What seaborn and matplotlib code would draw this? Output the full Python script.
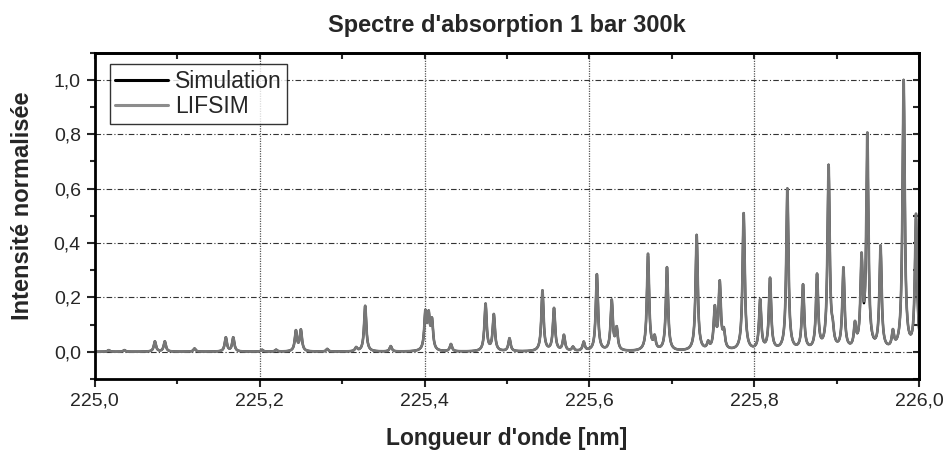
import numpy as np
import pandas as pd
import matplotlib
matplotlib.use("Agg")
import matplotlib.pyplot as plt
import seaborn as sns
from matplotlib.ticker import MultipleLocator, FuncFormatter

sns.set_style("ticks")
plt.rcParams['font.family'] = ['Liberation Sans', 'DejaVu Sans']

# Line positions (nm) and peak heights
peak_pos = [225.017, 225.036, 225.073, 225.085, 225.121, 225.159, 225.168,
            225.203, 225.220, 225.244, 225.250, 225.282, 225.317, 225.328,
            225.359, 225.401, 225.405, 225.409, 225.432, 225.474, 225.484,
            225.503, 225.543, 225.557, 225.569, 225.580, 225.593, 225.609,
            225.627, 225.633, 225.671, 225.679, 225.694, 225.730, 225.744,
            225.752, 225.758, 225.763, 225.787, 225.807, 225.819, 225.840,
            225.859, 225.876, 225.890, 225.895, 225.908, 225.922, 225.930,
            225.937, 225.953, 225.968, 225.981, 225.996]
sim_height = [0.006, 0.006, 0.038, 0.038, 0.012, 0.052, 0.052,
              0.007, 0.007, 0.075, 0.078, 0.010, 0.014, 0.170,
              0.020, 0.135, 0.120, 0.105, 0.027, 0.175, 0.135,
              0.048, 0.225, 0.158, 0.058, 0.015, 0.033, 0.285,
              0.185, 0.080, 0.350, 0.045, 0.310, 0.430, 0.025,
              0.150, 0.245, 0.060, 0.510, 0.185, 0.265, 0.600,
              0.240, 0.275, 0.680, 0.050, 0.300, 0.085, 0.320,
              0.730, 0.380, 0.060, 1.000, 0.480]
lifsim_height = [0.006, 0.006, 0.038, 0.038, 0.012, 0.052, 0.052,
                 0.007, 0.007, 0.075, 0.078, 0.010, 0.014, 0.170,
                 0.020, 0.135, 0.120, 0.105, 0.027, 0.175, 0.135,
                 0.048, 0.225, 0.158, 0.058, 0.015, 0.033, 0.285,
                 0.185, 0.080, 0.360, 0.045, 0.310, 0.430, 0.025,
                 0.150, 0.245, 0.060, 0.510, 0.185, 0.265, 0.600,
                 0.240, 0.275, 0.680, 0.050, 0.300, 0.085, 0.320,
                 0.790, 0.380, 0.060, 1.000, 0.500]
hwhm = 0.0016  # lorentzian half width, nm

wl = np.linspace(225.0, 226.0, 5001)


def spectrum(heights):
    pos = np.array(peak_pos)[:, None]
    h = np.array(heights)[:, None]
    s = (h * hwhm**2 / ((wl[None, :] - pos)**2 + hwhm**2)).sum(axis=0)
    return s / s.max()


df_sim = pd.DataFrame({'wl': wl, 'I': spectrum(sim_height)})
df_lif = pd.DataFrame({'wl': wl, 'I': spectrum(lifsim_height)})

fig = plt.figure(figsize=(9.49, 4.53), dpi=100)
ax = fig.add_axes([0.0998, 0.1634, 0.8689, 0.7203])

sns.lineplot(data=df_sim, x='wl', y='I', ax=ax, color='black', lw=1.6, label='Simulation')
sns.lineplot(data=df_lif, x='wl', y='I', ax=ax, color='#777777', lw=1.9, label='LIFSIM')

ax.set_xlim(225.0, 226.0)
ax.set_ylim(-0.1, 1.1)

ax.xaxis.set_major_locator(MultipleLocator(0.2))
ax.xaxis.set_minor_locator(MultipleLocator(0.1))
ax.yaxis.set_major_locator(MultipleLocator(0.2))
ax.yaxis.set_minor_locator(MultipleLocator(0.1))
ax.xaxis.set_major_formatter(FuncFormatter(lambda v, p: f"{v:.1f}".replace('.', ',')))
ax.yaxis.set_major_formatter(FuncFormatter(lambda v, p: f"{v:.1f}".replace('.', ',')))

ax.tick_params(which='major', direction='out', length=6, width=1.5, labelsize=14,
               top=False, right=False, pad=4)
ax.tick_params(which='minor', direction='out', length=3.5, width=1.5, top=False, right=False)
# inward ticks on top and right
sec_x = ax.secondary_xaxis('top')
sec_x.xaxis.set_major_locator(MultipleLocator(0.1))
sec_x.tick_params(direction='in', length=4, width=1.5, labeltop=False)
sec_x.spines['top'].set_linewidth(2)
sec_y = ax.secondary_yaxis('right')
sec_y.yaxis.set_major_locator(MultipleLocator(0.1))
sec_y.tick_params(direction='in', length=4, width=1.5, labelright=False)
sec_y.spines['right'].set_linewidth(2)

for s in ax.spines.values():
    s.set_linewidth(2)
    s.set_color('black')
    s.set_visible(True)

# grid: x dotted, y dash-dot
for v in [225.2, 225.4, 225.6, 225.8]:
    ax.axvline(v, color='#555555', lw=0.9, ls=(0, (1, 1)), zorder=0)
ax.yaxis.grid(True, color='#333333', lw=0.8, ls=(0, (5, 2, 1, 2)), zorder=0)
ax.set_axisbelow(True)

ax.set_xlabel("Longueur d'onde [nm]", fontsize=16.5, fontweight='bold', labelpad=12)
ax.set_ylabel("Intensité normalisée", fontsize=17, fontweight='bold')
ax.yaxis.set_label_coords(-0.074, 0.53)
ax.set_title("Spectre d'absorption 1 bar 300k", fontsize=17, fontweight='bold', pad=15)

leg = ax.legend(loc='upper left', bbox_to_anchor=(0.018, 0.965), fontsize=16.5,
                frameon=True, fancybox=False, handlelength=2.3, handletextpad=0.3,
                borderpad=0.25, labelspacing=0.1, borderaxespad=0)
leg.get_frame().set_edgecolor('black')
leg.get_frame().set_linewidth(1.0)
leg.get_lines()[0].set_linewidth(2.2)
leg.get_lines()[1].set_color('#8c8c8c')
leg.get_lines()[1].set_linewidth(2.2)

fig.savefig("out.png", dpi=100)
